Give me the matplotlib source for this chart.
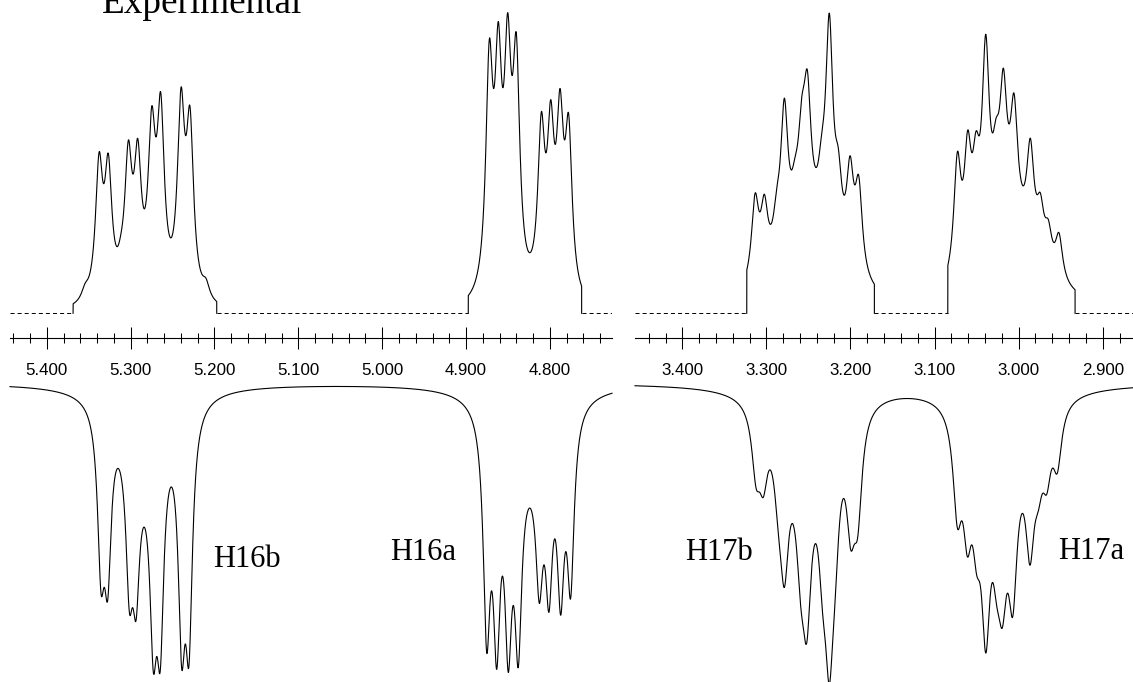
import numpy as np
import matplotlib.pyplot as plt
from matplotlib.ticker import MultipleLocator, FormatStrFormatter

plt.rcParams['lines.scale_dashes'] = False

# ppm range of the two ruler panels (left edge, right edge)
left_range = (5.4438, 4.7260)
right_range = (3.4563, 2.864)

# experimental multiplets: displayed window, peak maxima (ppm), heights (fraction of tallest)
exp_h16b_window = (5.3686, 5.1973)
exp_h16b_ppm = [5.3543, 5.3376, 5.3266, 5.3114, 5.3027, 5.2915, 5.2748, 5.2641, 5.2399, 5.2292, 5.2101]
exp_h16b_int = [0.10, 0.537, 0.533, 0.267, 0.577, 0.583, 0.69, 0.737, 0.753, 0.69, 0.117]

exp_h16a_window = (4.8974, 4.7622)
exp_h16a_ppm = [4.8834, 4.8723, 4.8616, 4.8504, 4.8401, 4.8250, 4.8103, 4.7991, 4.7880, 4.7777, 4.7630]
exp_h16a_int = [0.153, 0.907, 0.97, 1.0, 0.93, 0.17, 0.667, 0.71, 0.747, 0.66, 0.05]

exp_h17b_window = (3.3234, 3.1716)
exp_h17b_ppm = [3.3135, 3.3025, 3.2877, 3.2787, 3.2660, 3.2580, 3.2513, 3.2342, 3.2252, 3.2145, 3.2005, 3.1902, 3.1759]
exp_h17b_int = [0.40, 0.397, 0.417, 0.717, 0.52, 0.72, 0.81, 0.60, 1.0, 0.55, 0.523, 0.453, 0.067]

exp_h17a_window = (3.0843, 2.9329)
exp_h17a_ppm = [3.0815, 3.0729, 3.0606, 3.0507, 3.0392, 3.0269, 3.0182, 3.0055, 2.9861, 2.9742, 2.9647, 2.9520, 2.9389]
exp_h17a_int = [0.2, 0.537, 0.61, 0.607, 0.93, 0.65, 0.817, 0.733, 0.583, 0.40, 0.31, 0.26, 0.037]

# simulated multiplets: line positions (ppm) and depths (fraction)
sim_h16b_ppm = [5.3353, 5.3273, 5.3015, 5.2935, 5.2729, 5.2646, 5.2391, 5.2304]
sim_h16b_int = [0.70, 0.723, 0.763, 0.79, 0.963, 0.957, 0.95, 0.94]
sim_h16a_ppm = [4.8754, 4.8635, 4.8497, 4.8378, 4.8127, 4.8012, 4.7872, 4.7753]
sim_h16a_int = [0.897, 0.953, 0.963, 0.947, 0.733, 0.763, 0.773, 0.717]
sim_h17b_ppm = [3.3123, 3.3037, 3.2858, 3.2787, 3.2592, 3.2520, 3.2330, 3.2252, 3.2184, 3.1997, 3.1914]
sim_h17b_int = [0.347, 0.377, 0.50, 0.677, 0.74, 0.86, 0.767, 0.997, 0.723, 0.547, 0.503]
sim_h17a_ppm = [3.0729, 3.0610, 3.0499, 3.0391, 3.0261, 3.0194, 3.0070, 2.9865, 2.9766, 2.9666, 2.9540]
sim_h17a_int = [0.473, 0.57, 0.633, 0.893, 0.737, 0.81, 0.773, 0.603, 0.423, 0.367, 0.297]

# broad base under each multiplet: (centre ppm, half width ppm, height)
base_exp = {'H16b': (5.283, 0.03, 0.0), 'H16a': (4.83, 0.03, 0.0),
            'H17b': (3.25, 0.04, 0.25), 'H17a': (3.01, 0.04, 0.25)}
base_sim = {'H16b': (5.283, 0.03, 0.2), 'H16a': (4.825, 0.03, 0.2),
            'H17b': (3.255, 0.03, 0.2), 'H17a': (3.015, 0.03, 0.2)}


def lorentz(x, x0, g):
    return g ** 2 / ((x - x0) ** 2 + g ** 2)


def multiplet(x, ppm, heights, g, base):
    ppm = np.asarray(ppm)
    heights = np.asarray(heights)
    c, w, h = base
    M = lorentz(ppm[:, None], ppm[None, :], g)
    amps = np.linalg.solve(M, heights - h * lorentz(ppm, c, w))
    amps = np.clip(amps, 0, None)
    return (lorentz(x[:, None], ppm[None, :], g) * amps).sum(axis=1) + h * lorentz(x, c, w)


W, H = 1133, 682
fig = plt.figure(figsize=(W / 100, H / 100), dpi=100)

panels = [
    (10, 612, left_range,
     [(exp_h16b_window, exp_h16b_ppm, exp_h16b_int, 0.0052, base_exp['H16b']),
      (exp_h16a_window, exp_h16a_ppm, exp_h16a_int, 0.005, base_exp['H16a'])],
     [(sim_h16b_ppm, sim_h16b_int, 0.005, base_sim['H16b']),
      (sim_h16a_ppm, sim_h16a_int, 0.005, base_sim['H16a'])]),
    (635, 1133, right_range,
     [(exp_h17b_window, exp_h17b_ppm, exp_h17b_int, 0.0052, base_exp['H17b']),
      (exp_h17a_window, exp_h17a_ppm, exp_h17a_int, 0.0052, base_exp['H17a'])],
     [(sim_h17b_ppm, sim_h17b_int, 0.0062, base_sim['H17b']),
      (sim_h17a_ppm, sim_h17a_int, 0.0062, base_sim['H17a'])]),
]

ruler_y = 338.3
unit = 300.0
for x0, x1, rng, exp_parts, sim_parts in panels:
    # top: experimental spectrum + ppm ruler
    ax = fig.add_axes([x0 / W, 1 - ruler_y / H, (x1 - x0) / W, ruler_y / H])
    ax.set_xlim(rng)
    ax.set_ylim(-25 / unit, (ruler_y - 25) / unit)
    for s in ['top', 'left', 'right']:
        ax.spines[s].set_visible(False)
    ax.spines['bottom'].set_linewidth(0.8)
    ax.set_yticks([])
    ax.xaxis.set_major_locator(MultipleLocator(0.1))
    ax.xaxis.set_minor_locator(MultipleLocator(0.02))
    ax.xaxis.set_major_formatter(FormatStrFormatter('%.3f'))
    ax.tick_params(axis='x', which='major', direction='inout', length=15.8, width=0.75,
                   pad=10, labelsize=12.2)
    ax.tick_params(axis='x', which='minor', direction='inout', length=7.2, width=0.75)
    for lab in ax.get_xticklabels():
        lab.set_family('Liberation Sans')

    edges = [rng[0]]
    for (w0, w1), ppm, hts, g, base in exp_parts:
        xs = np.linspace(w0, w1, 1500)
        ys = multiplet(xs, ppm, hts, g, base)
        ax.plot(np.r_[w0, xs, w1], np.r_[0, ys, 0], color='black', lw=0.8)
        edges += [w0, w1]
    edges.append(rng[1])
    for a, b in zip(edges[::2], edges[1::2]):
        ax.plot([a, b], [0, 0], color='black', lw=0.7, dashes=(2.9, 2.2))

    # bottom: simulated spectrum, drawn downwards
    axb = fig.add_axes([x0 / W, 0, (x1 - x0) / W, 312 / H])
    axb.set_xlim(rng)
    axb.set_ylim(-(H - 383) / unit, (383 - 370) / unit)
    axb.axis('off')
    xs = np.linspace(rng[0], rng[1], 4000)
    total = np.zeros_like(xs)
    for ppm, hts, g, base in sim_parts:
        total += multiplet(xs, ppm, hts, g, base)
    axb.plot(xs, -total, color='black', lw=0.8, clip_on=False)

fig.text(101.7 / W, 1 - 13.3 / H, 'Experimental', family='Liberation Serif',
         fontsize=26.7, ha='left', va='baseline')
labels = ['H16b', 'H16a', 'H17b', 'H17a']
label_x = [213.3, 390, 685, 1058.3]
label_y = [566.7, 560, 560, 559]
for t, lx, ly in zip(labels, label_x, label_y):
    fig.text(lx / W, 1 - ly / H, t, family='Liberation Serif', fontsize=22,
             ha='left', va='baseline')

fig.savefig('out.png', dpi=100)
